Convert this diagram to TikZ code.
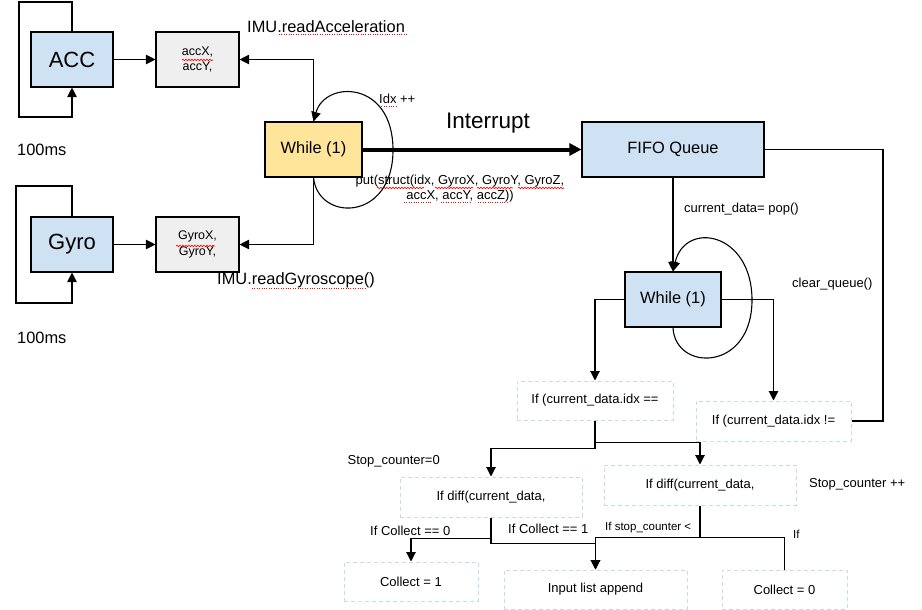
\documentclass[tikz,border=0pt]{standalone}
\usepackage{fontspec}
\setmainfont{Liberation Sans}
\usetikzlibrary{arrows.meta,decorations.pathmorphing}
\definecolor{boxblue}{HTML}{CFE2F3}
\definecolor{boxyellow}{HTML}{FFE599}
\definecolor{boxgrey}{HTML}{EFEFEF}
\definecolor{dashblue}{HTML}{C6D9F0}
\newcommand\fbig{\fontsize{22}{26}\selectfont}
\newcommand\finter{\fontsize{22.5}{27}\selectfont}
\newcommand\fmid{\fontsize{16.4}{19}\selectfont}
\newcommand\fsm{\fontsize{13}{15}\selectfont}
\newcommand\fxs{\fontsize{12.5}{15.5}\selectfont}
\newcommand\ftiny{\fontsize{11.5}{14}\selectfont}
\begin{document}
\begin{tikzpicture}[x=1pt,y=-1pt,
  blk/.style={draw=black, line width=1.1pt, inner sep=0pt, align=center},
  bluebox/.style={blk, fill=boxblue},
  yelbox/.style={blk, fill=boxyellow},
  greybox/.style={blk, fill=boxgrey, font=\fxs},
  dbox/.style={draw=dashblue, dash pattern=on 4pt off 3pt, line width=1pt, inner sep=0pt, font=\fsm},
  ln/.style={line width=1.1pt},
  arr/.style={ln, -{Triangle[length=9.5pt,width=9.5pt]}},
  lbl/.style={inner sep=0pt, font=\fsm},
  wavy/.style={red, line width=0.6pt, decorate, decoration={snake, segment length=3pt, amplitude=0.8pt}},
  dotty/.style={red, line width=0.8pt, dash pattern=on 0.8pt off 1.6pt}]
\fill[white] (0,0) rectangle (922,610);
\useasboundingbox (0,0) rectangle (922,610);

% sensors
\node[bluebox, minimum width=82pt, minimum height=55pt, font=\fbig] (acc) at (72,59.5) {ACC};
\node[greybox, minimum width=83pt, minimum height=55pt] (accx) at (197.5,59.5) {accX,\\accY,};
\node[bluebox, minimum width=82pt, minimum height=55pt, font=\fbig] (gyro) at (72,244.5) {Gyro};
\node[greybox, minimum width=83pt, minimum height=55pt] (gyrox) at (197.5,244.5) {GyroX,\\GyroY,};
\node[yelbox, minimum width=97pt, minimum height=55pt, font=\fmid] (w1) at (313.5,149.5) {While (1)};

\node[lbl, font=\fmid, anchor=west] (t100a) at (17,150) {100ms};
\node[lbl, font=\fmid, anchor=west] (t100b) at (17,338) {100ms};
\node[lbl, font=\fmid, anchor=west] (imua) at (247,27) {IMU.readAcceleration};
\node[lbl, font=\fmid, anchor=west] (imug) at (217,280) {IMU.readGyroscope()};
\node[lbl, anchor=west] (idx) at (379,99) {Idx ++};
\node[lbl, font=\finter] (intr) at (488,123) {Interrupt};
\node[lbl, align=center] (put) at (460,189) {put(struct(idx, GyroX, GyroY, GyroZ,\\accX, accY, accZ))};

% spell-check marks
\draw[dotty] (279,34) -- (407,34);
\draw[dotty] (379,106) -- (397,106);
\draw[dotty] (252,288) -- (365,288);
\draw[wavy] (182,60) -- (213,60);
\draw[wavy] (176,246) -- (215,246);
\draw[wavy] (377,188) -- (424,188);
\draw[wavy] (435,188) -- (473,188);
\draw[wavy] (477,188) -- (513,188);
\draw[wavy] (518,188) -- (564,188);
\draw[dotty] (404,202) -- (432,202);
\draw[dotty] (441,202) -- (471,202);
\draw[dotty] (478,202) -- (508,202);

\draw[arr] (acc.north) |- (19,2) |- (72,117) -- (acc.south);
\draw[arr] (gyro.north) |- (16,186) |- (72,303) -- (gyro.south);
\draw[arr] (acc.east) -- (accx.west);
\draw[arr] (gyro.east) -- (gyrox.west);
\draw[arr] (w1.north) |- (accx.east);
\draw[arr] (w1.south) |- (gyrox.east);
\draw[arr] (w1.south) .. controls (318,222) and (393,222) .. (393,150) .. controls (393,80) and (325,80) .. (w1.north);

% queue
\node[bluebox, minimum width=182pt, minimum height=55pt, font=\fmid] (fifo) at (673,149.5) {FIFO Queue};
\draw[line width=4pt, -{Triangle[length=12pt,width=12pt]}] (w1.east) -- (fifo.west);
\node[bluebox, minimum width=96pt, minimum height=55pt, font=\fmid] (w2) at (673,299.5) {While (1)};
\draw[arr] (fifo.south) -- (w2.north);
\draw[arr] (w2.south) .. controls (675,372) and (752,372) .. (752,300) .. controls (752,232) and (685,220) .. (w2.north);
\node[lbl, anchor=west] (cdp) at (684,209) {current\_data= pop()};
\node[lbl, anchor=west] (clq) at (792,284) {clear\_queue()};

\node[dbox, minimum width=156pt, minimum height=39pt] (if1) at (595,400.5) {If (current\_data.idx ==};
\node[dbox, minimum width=155pt, minimum height=40pt] (if2) at (773.5,421) {If (current\_data.idx !=};
\draw[arr] (w2.west) -| (if1.north);
\draw[arr] (w2.east) -| (if2.north);
\draw[ln] (fifo.east) -| (883,421) -- (if2.east);

\node[dbox, minimum width=182pt, minimum height=40pt] (diff1) at (491,497) {If diff(current\_data,};
\node[dbox, minimum width=192pt, minimum height=40pt] (diff2) at (700,485) {If diff(current\_data,};
\draw[arr] (if1.south) -- ++(0,28) -| (diff1.north);
\draw[arr] (if1.south) ++(0,22) -| (diff2.north);
\draw[ln] (if1.south) -- ++(0,22);
\node[lbl, anchor=east] (sc0) at (440,461) {Stop\_counter=0};
\node[lbl, anchor=west] (scpp) at (809,484) {Stop\_counter ++};

\node[dbox, minimum width=134pt, minimum height=39pt] (col1) at (411,581.5) {Collect = 1};
\node[dbox, minimum width=183pt, minimum height=39pt] (input) at (595.5,589.5) {Input list append};
\node[dbox, minimum width=125pt, minimum height=39pt] (col0) at (784.5,589.5) {Collect = 0};
\draw[arr] (diff1.south) -- ++(0,21) -| (col1.north);
\draw[arr] (diff1.south) -- ++(0,26) -| (input.north);
\draw[arr] (diff2.south) -- ++(0,32) -| (input.north);
\draw[ln] (diff2.south) -- ++(0,32) -| (col0.north);
\node[lbl, anchor=west] (ic0) at (370,531) {If Collect == 0};
\node[lbl, anchor=west] (ic1) at (508,529) {If Collect == 1};
\node[lbl, font=\ftiny, anchor=west] (isc) at (605,528) {If stop\_counter <};
\node[lbl, font=\ftiny, anchor=west] (iff) at (793,534) {If};
\end{tikzpicture}
\end{document}
